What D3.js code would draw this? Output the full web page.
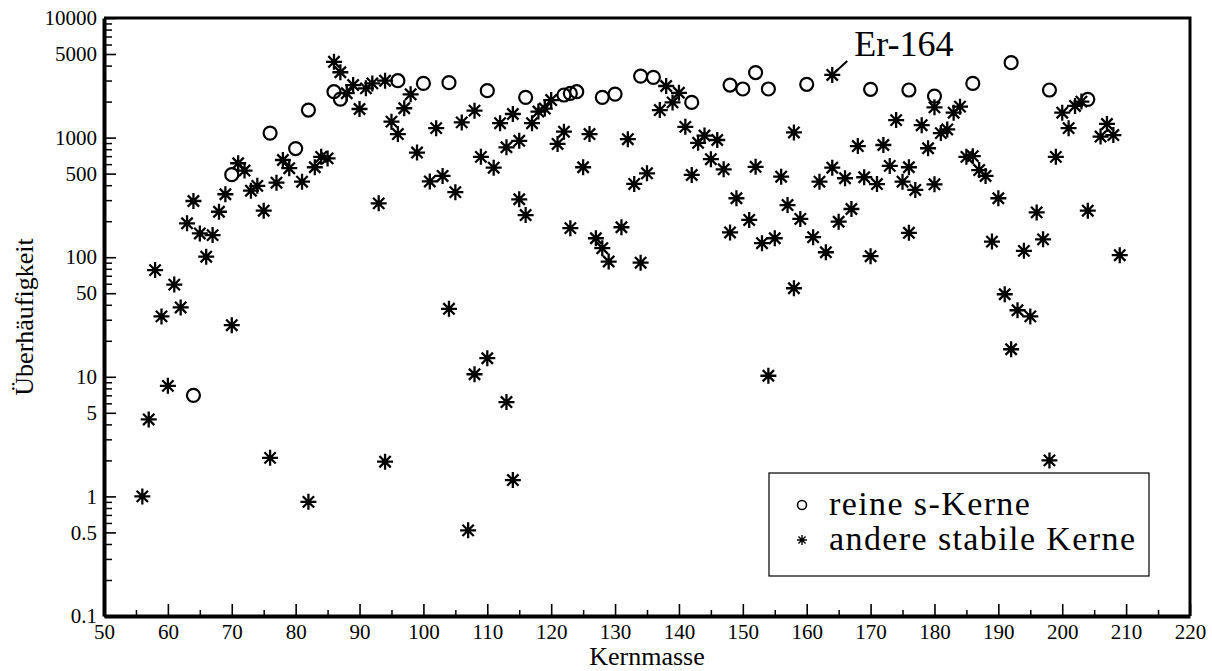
<!DOCTYPE html>
<html>
<head>
<meta charset="utf-8">
<script src="https://cdn.jsdelivr.net/npm/d3@7"></script>
<style>
  body { margin: 0; background: #fff; }
  svg text { font-family: "Liberation Serif", "DejaVu Serif", serif !important; fill: #000; }
</style>
</head>
<body>
<div class="chart"></div>
<script>
// reine s-Kerne (circles)
const sMass  = [64, 70, 76, 80, 82, 86, 87, 96, 100, 104, 110, 116, 122, 123, 124, 128, 130, 134, 136, 142,
                148, 150, 152, 154, 160, 170, 176, 180, 186, 192, 198, 204];
const sValue = [7, 490, 1090, 810, 1700, 2420, 2100, 2990, 2840, 2880, 2470, 2170, 2270, 2340, 2420, 2170, 2310, 3270, 3190, 1970,
                2750, 2550, 3500, 2550, 2790, 2535, 2500, 2225, 2840, 4230, 2500, 2090];

// andere stabile Kerne (stars)
const otherMass  = [56, 57, 58, 59, 60, 61, 62, 63, 64, 65, 66, 67, 68, 69, 70, 71, 72, 73, 74, 75,
                    76, 77, 78, 79, 81, 82, 83, 84, 85, 86, 87, 88, 89, 90, 91, 92, 93, 94, 94, 95,
                    96, 97, 98, 99, 101, 102, 103, 104, 105, 106, 107, 108, 108, 109, 110, 111, 112, 113, 113, 114,
                    114, 115, 115, 116, 117, 118, 119, 120, 121, 122, 123, 125, 126, 127, 128, 129, 131, 132, 133, 134,
                    135, 137, 138, 139, 140, 141, 142, 143, 144, 145, 146, 147, 148, 149, 151, 152, 153, 154, 155, 156,
                    157, 158, 158, 159, 161, 162, 163, 164, 164, 165, 166, 167, 168, 169, 170, 171, 172, 173, 174, 175,
                    176, 176, 177, 178, 179, 180, 180, 181, 182, 183, 184, 185, 186, 187, 188, 189, 190, 191, 192, 193,
                    194, 195, 196, 197, 198, 199, 200, 201, 202, 203, 204, 206, 207, 208, 209];
const otherValue = [1.0, 4.4, 78, 32, 8.4, 59, 38, 192, 295, 158, 101, 153, 240, 336, 27, 610, 530, 360, 395, 245,
                    2.1, 420, 650, 555, 428, 0.9, 565, 690, 670, 4300, 3520, 2350, 2750, 1735, 2580, 2840, 282, 2990, 1.95, 1360,
                    1070, 1760, 2300, 750, 430, 1200, 478, 37, 350, 1340, 0.52, 1680, 10.5, 690, 14.3, 560, 1320, 830, 6.15, 1575,
                    1.37, 940, 305, 225, 1320, 1650, 1750, 2060, 885, 1120, 175, 565, 1070, 144, 119, 92, 178, 970, 410, 90,
                    503, 1700, 2700, 1970, 2370, 1230, 487, 905, 1040, 660, 955, 543, 161, 311, 205, 570, 131, 10.2, 144, 471,
                    273, 1105, 55, 209, 147, 428, 110, 3340, 560, 198, 457, 253, 850, 466, 102, 409, 867, 580, 1400, 428,
                    565, 160, 365, 1270, 815, 1790, 407, 1090, 1170, 1615, 1815, 690, 700, 535, 478, 135, 311, 49, 17, 36,
                    113, 32, 237, 141, 2.0, 690, 1615, 1200, 1840, 2000, 245, 1020, 1300, 1050, 104];

const xTicks = [50, 60, 70, 80, 90, 100, 110, 120, 130, 140, 150, 160, 170, 180, 190, 200, 210, 220];
const xMinorTicks = [55, 65, 75, 85, 95, 105, 115, 125, 135, 145, 155, 165, 175, 185, 195, 205, 215];
const yTicks = [0.1, 0.5, 1, 5, 10, 50, 100, 500, 1000, 5000, 10000];
const legendLabels = ["reine s-Kerne", "andere stabile Kerne"];
const annotation = {mass: 164, value: 3340, label: "Er-164"};

const width = 1212;
const height = 671;
const plot = {left: 104, right: 1190, top: 18, bottom: 616};
const serif = "'Liberation Serif', 'DejaVu Serif', serif";

// 8-armed asterisk like the original plot symbol
const star8 = {
    draw(context, size) {
        const r = Math.sqrt(size) / 2;
        const d = r * Math.SQRT1_2;
        context.moveTo(-r, 0); context.lineTo(r, 0);
        context.moveTo(0, -r); context.lineTo(0, r);
        context.moveTo(-d, -d); context.lineTo(d, d);
        context.moveTo(-d, d); context.lineTo(d, -d);
    }
};

const svg = d3.select(".chart")
    .append("svg")
    .attr("width", width)
    .attr("height", height);

svg.append("rect")
    .attr("width", width)
    .attr("height", height)
    .attr("fill", "#fff");

const x = d3.scaleLinear()
    .domain([50, 220])
    .range([plot.left, plot.right]);

const y = d3.scaleLog()
    .domain([0.1, 10000])
    .range([plot.bottom, plot.top]);

// frame: top and right
svg.append("path")
    .attr("d", `M${plot.left},${plot.top}H${plot.right}V${plot.bottom}`)
    .attr("fill", "none")
    .attr("stroke", "#000")
    .attr("stroke-width", 3);

// y axis, ticks pointing inward
const yMinor = y.ticks().filter(v => !yTicks.includes(v));
svg.append("g")
    .attr("transform", `translate(${plot.left},0)`)
    .call(d3.axisLeft(y).tickValues(yMinor).tickSize(-8).tickSizeOuter(0).tickFormat(""))
    .call(g => g.select(".domain").remove())
    .selectAll("line").attr("stroke-width", 1.5);

svg.append("g")
    .attr("transform", `translate(${plot.left},0)`)
    .call(d3.axisLeft(y).tickValues(yTicks).tickSize(-12).tickSizeOuter(0).tickPadding(7).tickFormat(d => d))
    .attr("font-family", serif)
    .call(g => g.select(".domain").attr("stroke-width", 4))
    .call(g => g.selectAll(".tick line").attr("stroke-width", 1.6))
    .selectAll("text")
    .attr("font-family", serif)
    .style("font-size", "21px");

// x axis
svg.append("g")
    .attr("transform", `translate(0,${plot.bottom})`)
    .call(d3.axisBottom(x).tickValues(xMinorTicks).tickSize(-6).tickSizeOuter(0).tickFormat(""))
    .call(g => g.select(".domain").remove())
    .selectAll("line").attr("stroke-width", 1.5);

svg.append("g")
    .attr("transform", `translate(0,${plot.bottom})`)
    .call(d3.axisBottom(x).tickValues(xTicks).tickSize(-12).tickSizeOuter(0).tickPadding(8).tickFormat(d => d))
    .attr("font-family", serif)
    .call(g => g.select(".domain").attr("stroke-width", 4))
    .call(g => g.selectAll(".tick line").attr("stroke-width", 1.6))
    .selectAll("text")
    .attr("font-family", serif)
    .style("font-size", "21px");

svg.append("text")
    .attr("x", 647)
    .attr("y", 665)
    .attr("text-anchor", "middle")
    .attr("font-family", serif)
    .style("font-size", "26px")
    .text("Kernmasse");

svg.append("text")
    .attr("transform", "translate(33,317) rotate(-90)")
    .attr("text-anchor", "middle")
    .attr("font-family", serif)
    .style("font-size", "26px")
    .text("Überhäufigkeit");

// data
const sData = sMass.map((m, i) => ({mass: m, value: sValue[i]}));
const otherData = otherMass.map((m, i) => ({mass: m, value: otherValue[i]}));

svg.append("g")
    .selectAll("circle")
    .data(sData)
    .enter()
    .append("circle")
    .attr("cx", d => x(d.mass))
    .attr("cy", d => y(d.value))
    .attr("r", 6.5)
    .attr("fill", "none")
    .attr("stroke", "#000")
    .attr("stroke-width", 2.2);

const starPath = d3.symbol().type(star8).size(256);
const stars = svg.append("g")
    .selectAll("g")
    .data(otherData)
    .enter()
    .append("g")
    .attr("transform", d => `translate(${x(d.mass)},${y(d.value)})`);
stars.append("path")
    .attr("d", starPath)
    .attr("stroke", "#000")
    .attr("stroke-width", 2.3);
stars.append("circle")
    .attr("r", 2.8)
    .attr("fill", "#000");

// Er-164 label with leader line
const ax = x(annotation.mass), ay = y(annotation.value);
svg.append("line")
    .attr("x1", ax + 3).attr("y1", ay - 3)
    .attr("x2", ax + 15).attr("y2", ay - 14)
    .attr("stroke", "#000")
    .attr("stroke-width", 2);
svg.append("text")
    .attr("x", ax + 22)
    .attr("y", 56)
    .attr("font-family", serif)
    .style("font-size", "36px")
    .text(annotation.label);

// legend
const legend = svg.append("g").attr("transform", "translate(769,473)");
legend.append("rect")
    .attr("width", 380)
    .attr("height", 103)
    .attr("fill", "#fff")
    .attr("stroke", "#000")
    .attr("stroke-width", 1.2);
legend.append("circle")
    .attr("cx", 33).attr("cy", 32).attr("r", 4.5)
    .attr("fill", "none").attr("stroke", "#000").attr("stroke-width", 1.6);
legend.append("path")
    .attr("transform", "translate(33,67)")
    .attr("d", d3.symbol().type(star8).size(100))
    .attr("stroke", "#000").attr("stroke-width", 1.4);
legend.append("circle")
    .attr("cx", 33).attr("cy", 67).attr("r", 1.6).attr("fill", "#000");
legend.selectAll("text.lab")
    .data(legendLabels)
    .enter()
    .append("text")
    .attr("class", "lab")
    .attr("x", 60)
    .attr("y", (d, i) => 42 + i * 35)
    .attr("font-family", serif)
    .style("font-size", "34px")
    .style("letter-spacing", "1.4px")
    .text(d => d);
</script>
</body>
</html>
